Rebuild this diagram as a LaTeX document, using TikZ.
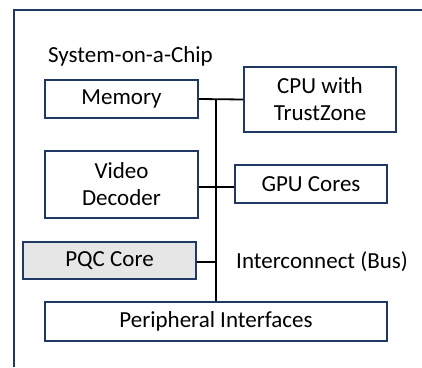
\documentclass[tikz,border=0pt]{standalone}
\usepackage{fontspec}
\setmainfont{Carlito}
\definecolor{navy}{HTML}{203864}
\definecolor{paleg}{HTML}{E7E6E6}
\begin{document}
\begin{tikzpicture}[x=1pt,y=-1pt,
  blk/.style={draw=navy,line width=1.6pt,fill=white,align=center,inner sep=0pt,
    font=\fontsize{23}{27}\selectfont},
  wire/.style={draw=black,line width=1.8pt},
  lbl/.style={font=\fontsize{23}{27}\selectfont,inner sep=0pt,anchor=west}]
\useasboundingbox (0,0) rectangle (422,367);
% chip outline (continues past the edges)
\draw[navy,line width=2pt] (422,10) -- (14,10) -- (14,367);
\node[lbl] (soc) at (48,56) {System-on-a-Chip};
% blocks
\node[blk,minimum width=153pt,minimum height=38pt] (mem) at (121.5,99) {Memory};
\node[blk,minimum width=152pt,minimum height=65pt] (cpu) at (320,99.5) {CPU with\\TrustZone};
\node[blk,minimum width=153pt,minimum height=67pt] (vid) at (121.5,184.5) {Video\\Decoder};
\node[blk,minimum width=152pt,minimum height=38pt] (gpu) at (311,184) {GPU Cores};
\node[blk,fill=paleg,minimum width=173pt,minimum height=37pt] (pqc) at (109.5,260.5) {PQC Core};
\node[blk,minimum width=342pt,minimum height=39pt] (per) at (216,321.5) {Peripheral Interfaces};
\node[lbl] (bus) at (236,262) {Interconnect (Bus)};
% interconnect
\coordinate (bt) at (216,99);
\draw[wire] (mem.east) -- (cpu.west);
\draw[wire] (bt) -- (per.north);
\draw[wire] (vid.east |- 0,187) -- (gpu.west |- 0,187);
\draw[wire] (pqc.east |- 0,262) -- (bt |- 0,262);
\end{tikzpicture}
\end{document}
